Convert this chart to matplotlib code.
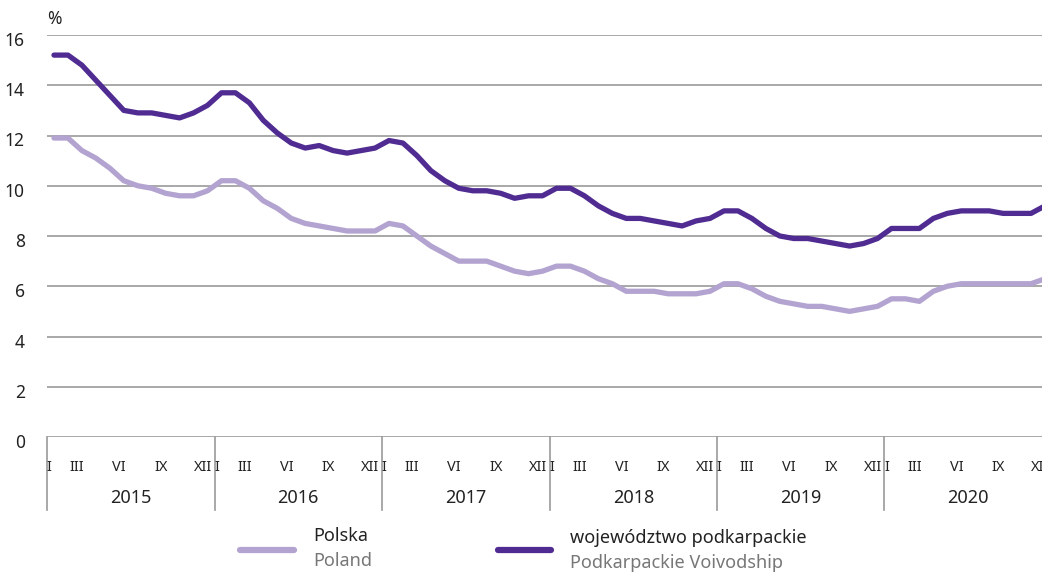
import numpy as np
import matplotlib.pyplot as plt
import matplotlib.transforms as mtransforms

# stopa bezrobocia rejestrowanego, miesięcznie I 2015 - XII 2020
years = ['2015', '2016', '2017', '2018', '2019', '2020']
month_labels = ['I', 'III', 'VI', 'IX', 'XII']
month_idx = [0, 2, 5, 8, 11]

polska = [11.9, 11.9, 11.4, 11.1, 10.7, 10.2, 10.0, 9.9, 9.7, 9.6, 9.6, 9.8,
          10.2, 10.2, 9.9, 9.4, 9.1, 8.7, 8.5, 8.4, 8.3, 8.2, 8.2, 8.2,
          8.5, 8.4, 8.0, 7.6, 7.3, 7.0, 7.0, 7.0, 6.8, 6.6, 6.5, 6.6,
          6.8, 6.8, 6.6, 6.3, 6.1, 5.8, 5.8, 5.8, 5.7, 5.7, 5.7, 5.8,
          6.1, 6.1, 5.9, 5.6, 5.4, 5.3, 5.2, 5.2, 5.1, 5.0, 5.1, 5.2,
          5.5, 5.5, 5.4, 5.8, 6.0, 6.1, 6.1, 6.1, 6.1, 6.1, 6.1, 6.3]
podkarpackie = [15.2, 15.2, 14.8, 14.2, 13.6, 13.0, 12.9, 12.9, 12.8, 12.7, 12.9, 13.2,
                13.7, 13.7, 13.3, 12.6, 12.1, 11.7, 11.5, 11.6, 11.4, 11.3, 11.4, 11.5,
                11.8, 11.7, 11.2, 10.6, 10.2, 9.9, 9.8, 9.8, 9.7, 9.5, 9.6, 9.6,
                9.9, 9.9, 9.6, 9.2, 8.9, 8.7, 8.7, 8.6, 8.5, 8.4, 8.6, 8.7,
                9.0, 9.0, 8.7, 8.3, 8.0, 7.9, 7.9, 7.8, 7.7, 7.6, 7.7, 7.9,
                8.3, 8.3, 8.3, 8.7, 8.9, 9.0, 9.0, 9.0, 8.9, 8.9, 8.9, 9.2]

c_light = '#b3a3d0'
c_dark = '#502c92'
c_grid = '#999999'

plt.rcParams['font.family'] = ['Noto Sans', 'DejaVu Sans']

fig = plt.figure(figsize=(10.42, 5.72), dpi=100)
ax = fig.add_axes([47 / 1042, 135 / 572, 1005 / 1042, 402 / 572])

x = np.arange(len(polska)) + 0.5
ax.plot(x, polska, color=c_light, lw=3.8, solid_capstyle='round', solid_joinstyle='round', zorder=3)
ax.plot(x, podkarpackie, color=c_dark, lw=3.8, solid_capstyle='round', solid_joinstyle='round', zorder=3)

ax.set_xlim(0, 72)
ax.set_ylim(0, 16)
ax.set_yticks(range(0, 17, 2))
ax.yaxis.grid(True, color=c_grid, lw=1.2)
ax.set_axisbelow(True)
for s in ax.spines.values():
    s.set_visible(False)
ax.tick_params(axis='y', length=0, pad=16, labelsize=12.5, labelcolor='#222222')
off = mtransforms.ScaledTranslation(0, -4 / 100, fig.dpi_scale_trans)
for lab in ax.get_yticklabels():
    lab.set_transform(lab.get_transform() + off)
ax.set_xticks([])

ax.text(0.0, 1.04, '%', transform=ax.transAxes, fontsize=12.5, color='#222222', va='center', ha='left')

trans = mtransforms.blended_transform_factory(ax.transData, ax.transAxes)
for i, yr in enumerate(years):
    ax.plot([i * 12, i * 12], [0, -0.182], transform=trans, color=c_grid, lw=1.2, clip_on=False)
    for lbl, m in zip(month_labels, month_idx):
        ax.text(i * 12 + m + 0.5 - 0.35, -0.075, lbl, transform=trans, ha='center', va='center',
                fontsize=10.5, color='#222222')
    ax.text(i * 12 + 6, -0.152, yr, transform=trans, ha='center', va='center', fontsize=13, color='#222222')

# legenda
fig.add_artist(plt.Line2D([240 / 1042, 294 / 1042], [1 - 550 / 572] * 2, color=c_light, lw=4.5,
                          solid_capstyle='round'))
fig.text(313 / 1042, 1 - 536 / 572, 'Polska', fontsize=13, color='#222222', va='center')
fig.text(313 / 1042, 1 - 561 / 572, 'Poland', fontsize=13, color='#777777', va='center')
fig.add_artist(plt.Line2D([498 / 1042, 551 / 1042], [1 - 550 / 572] * 2, color=c_dark, lw=4.5,
                          solid_capstyle='round'))
fig.text(570 / 1042, 1 - 538 / 572, 'województwo podkarpackie', fontsize=13, color='#222222', va='center')
fig.text(570 / 1042, 1 - 563 / 572, 'Podkarpackie Voivodship', fontsize=13, color='#777777', va='center')

fig.savefig('out.png', dpi=100)
